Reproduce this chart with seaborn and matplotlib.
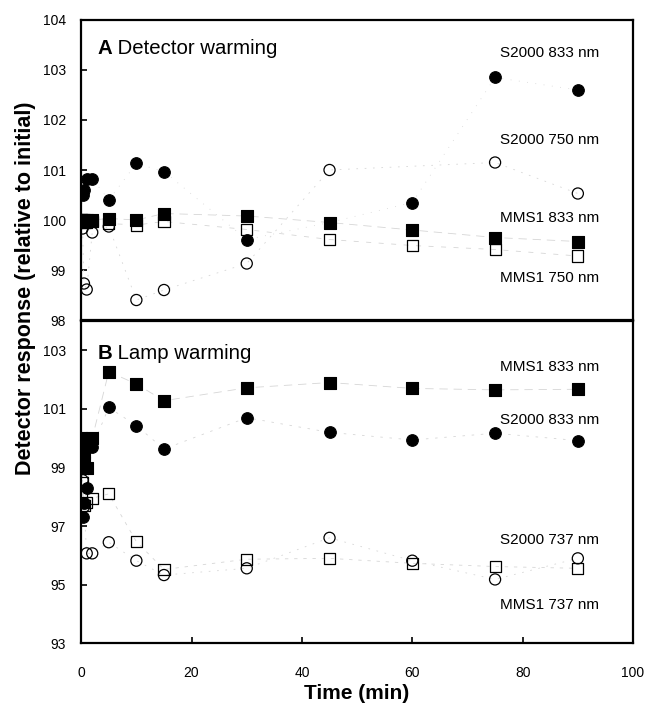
import numpy as np
import pandas as pd
import matplotlib
matplotlib.use('Agg')
import matplotlib.pyplot as plt
import seaborn as sns

nan = np.nan
time_min = [0, 0.25, 0.5, 1, 2, 5, 10, 15, 30, 45, 60, 75, 90]

# panel A - detector warming
a_s2000_833 = [100, 100.5, 100.6, 100.83, 100.83, 100.4, 101.13, 100.97, 99.61, 99.95, 100.35, 102.85, 102.6]
a_s2000_750 = [100, 99.83, 98.73, 98.61, 99.75, 99.87, 98.4, 98.6, 99.13, 101.0, nan, 101.15, 100.53]
a_mms1_833 = [100, 100, 100, 100, 100, 100.03, 100.0, 100.13, 100.08, 99.95, 99.8, 99.65, 99.57]
a_mms1_750 = [100, 99.97, 99.95, 99.96, 99.97, 99.93, 99.9, 99.97, 99.81, 99.61, 99.49, 99.41, 99.28]

# panel B - lamp warming
b_mms1_833 = [100, 99.7, 99.35, 99.0, 100.0, 102.27, 101.85, 101.28, 101.72, 101.9, 101.7, 101.65, 101.67]
b_s2000_833 = [100, 97.3, 97.8, 98.3, 99.7, 101.05, 100.43, 99.63, 100.7, 100.2, 99.94, 100.17, 99.92]
b_mms1_737 = [100, 98.5, 97.7, 97.8, 97.95, 98.1, 96.47, 95.52, 95.87, 95.9, 95.73, 95.62, 95.56]
b_s2000_737 = [100, 98.57, 97.66, 96.07, 96.07, 96.45, 95.82, 95.33, 95.56, 96.6, 95.82, 95.18, 95.9]

sns.set_style('white')
plt.rcParams['font.family'] = ['Liberation Sans', 'DejaVu Sans']
plt.rcParams['text.color'] = 'black'

fig = plt.figure(figsize=(6.48, 7.11), dpi=100)
ax_a = fig.add_axes([0.1253, 0.5499, 0.8516, 0.4220])
ax_b = fig.add_axes([0.1253, 0.0952, 0.8516, 0.4533])


def draw(ax, values, marker, filled, dash, size):
    df = pd.DataFrame({'t': time_min, 'v': values}).dropna()
    sns.lineplot(data=df, x='t', y='v', ax=ax, color='0.84', lw=0.6,
                 ls=(0, dash), sort=False)
    if filled:
        sns.scatterplot(data=df, x='t', y='v', ax=ax, marker=marker, s=size,
                        color='black', edgecolor='black', linewidth=0.8, zorder=3)
    else:
        sns.scatterplot(data=df, x='t', y='v', ax=ax, marker=marker, s=size,
                        facecolor='none', edgecolor='black', linewidth=0.9, zorder=3)


draw(ax_a, a_s2000_750, 'o', False, (2, 8), 64)
draw(ax_a, a_s2000_833, 'o', True, (1, 9), 70)
draw(ax_a, a_mms1_750, 's', False, (6, 9), 64)
draw(ax_a, a_mms1_833, 's', True, (10, 7), 76)

draw(ax_b, b_s2000_737, 'o', False, (2, 8), 64)
draw(ax_b, b_s2000_833, 'o', True, (3, 8), 70)
draw(ax_b, b_mms1_737, 's', False, (4, 7), 64)
draw(ax_b, b_mms1_833, 's', True, (10, 7), 76)

for ax in (ax_a, ax_b):
    ax.set_xlim(0, 100)
    ax.set_xlabel('')
    ax.set_ylabel('')
    for sp in ax.spines.values():
        sp.set_linewidth(1.6)
        sp.set_color('black')
    ax.tick_params(axis='y', direction='in', length=4, width=1.2, pad=11,
                   labelsize=10, left=True, colors='black')

ax_a.set_ylim(98, 104)
ax_a.set_yticks(np.arange(98, 105, 1))
ax_a.tick_params(axis='x', bottom=False, labelbottom=False)

ax_b.set_ylim(93, 104)
ax_b.set_yticks(np.arange(93, 104, 2))
ax_b.set_xticks(np.arange(0, 101, 20))
ax_b.tick_params(axis='x', direction='in', length=4, width=1.2, pad=16,
                 labelsize=10, bottom=True, colors='black')

# panel titles: bold letter followed by regular text
for ax, yv, letter, title in ((ax_a, 103.43, 'A', ' Detector warming'),
                              (ax_b, 102.9, 'B', ' Lamp warming')):
    t = ax.text(3, yv, letter, fontsize=14.7, va='center', fontweight='bold')
    ax.annotate(title, xy=(1, 0.5), xycoords=t, fontsize=14.7, va='center')

lbl = dict(fontsize=11, ha='right', va='center')
ax_a.text(93.8, 103.34, 'S2000 833 nm', **lbl)
ax_a.text(93.8, 101.6, 'S2000 750 nm', **lbl)
ax_a.text(93.8, 100.04, 'MMS1 833 nm', **lbl)
ax_a.text(93.8, 98.84, 'MMS1 750 nm', **lbl)

ax_b.text(93.8, 102.44, 'MMS1 833 nm', **lbl)
ax_b.text(93.8, 100.63, 'S2000 833 nm', **lbl)
ax_b.text(93.8, 96.53, 'S2000 737 nm', **lbl)
ax_b.text(93.8, 94.31, 'MMS1 737 nm', **lbl)

fig.text(0.0386, 0.594, 'Detector response (relative to initial)', rotation=90,
         fontsize=15.5, fontweight='bold', ha='center', va='center')
fig.text(0.551, 0.0253, 'Time (min)', fontsize=15, fontweight='bold',
         ha='center', va='center')

fig.savefig('out.png', dpi=100)
